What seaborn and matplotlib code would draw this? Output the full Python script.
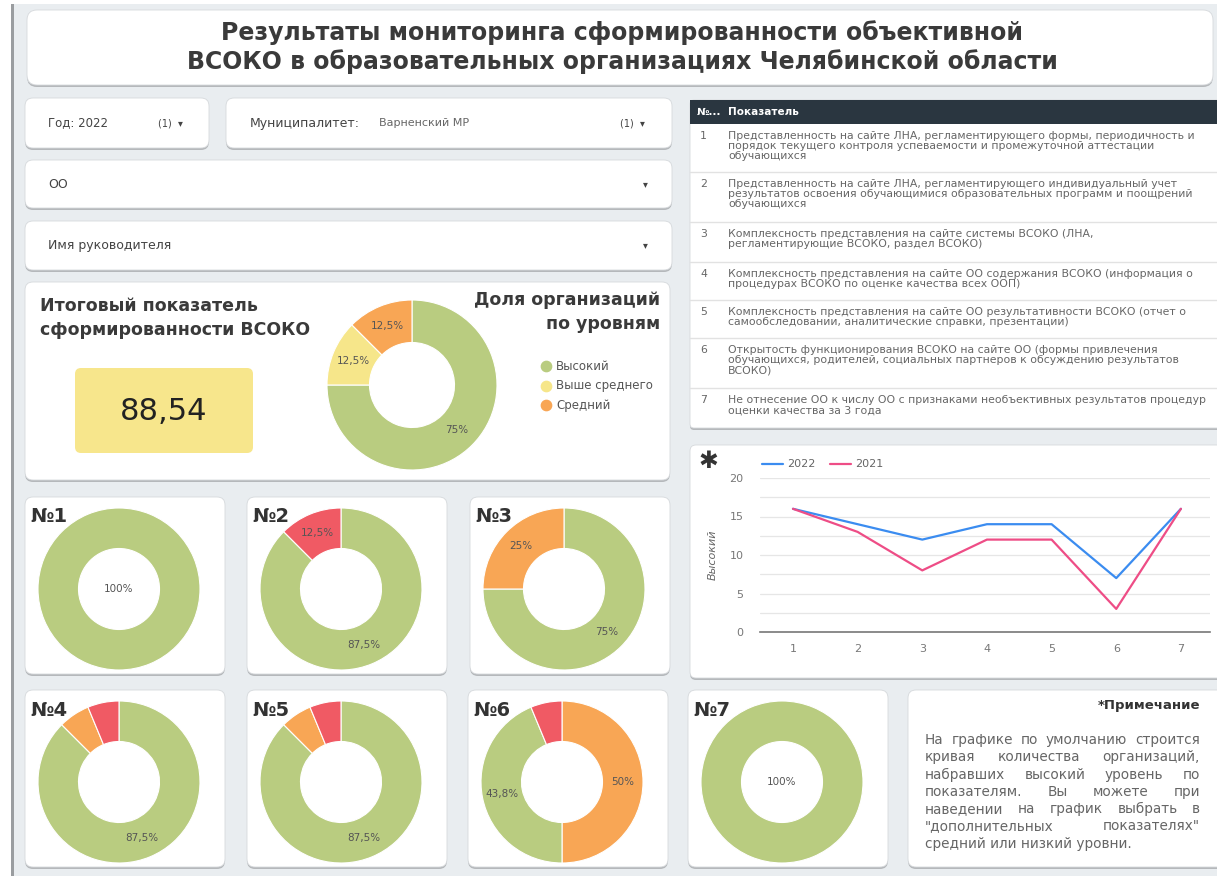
import math
import matplotlib
matplotlib.use("Agg")
import matplotlib.pyplot as plt
from matplotlib.patches import FancyBboxPatch, Rectangle
import seaborn as sns
import pandas as pd

W, H = 1217, 876

# ---- data ----
title = ("Результаты мониторинга сформированности объективной\n"
         "ВСОКО в образовательных организациях Челябинской области")
total_score = "88,54"
levels = ["Высокий", "Выше среднего", "Средний", "Низкий"]
level_colors = ["#b9cc80", "#f6e68a", "#f8a655", "#f05a64"]
overall_share = [75, 12.5, 12.5, 0]

indicators = [1, 2, 3, 4, 5, 6, 7]
share_high = [100, 87.5, 75, 87.5, 87.5, 43.75, 100]
share_above = [0, 0, 0, 0, 0, 0, 0]
share_mid = [0, 0, 25, 6.25, 6.25, 50, 0]
share_low = [0, 12.5, 0, 6.25, 6.25, 6.25, 0]

years = ["2022", "2021"]
high_2022 = [16, 14, 12, 14, 14, 7, 16]
high_2021 = [16, 13, 8, 12, 12, 3, 16]

indicator_names = [
    "Представленность на сайте ЛНА, регламентирующего формы, периодичность и\n"
    "порядок текущего контроля успеваемости и промежуточной аттестации\nобучающихся",
    "Представленность на сайте ЛНА, регламентирующего индивидуальный учет\n"
    "результатов освоения обучающимися образовательных программ и поощрений\nобучающихся",
    "Комплексность представления на сайте системы ВСОКО (ЛНА,\nрегламентирующие ВСОКО, раздел ВСОКО)",
    "Комплексность представления на сайте ОО содержания ВСОКО (информация о\n"
    "процедурах ВСОКО по оценке качества всех ООП)",
    "Комплексность представления на сайте ОО результативности ВСОКО (отчет о\n"
    "самообследовании, аналитические справки, презентации)",
    "Открытость функционирования ВСОКО на сайте ОО (формы привлечения\n"
    "обучающихся, родителей, социальных партнеров к обсуждению результатов\nВСОКО)",
    "Не отнесение ОО к числу ОО с признаками необъективных результатов процедур\n"
    "оценки качества за 3 года",
]

note_lines = [
    "На графике по умолчанию строится",
    "кривая количества организаций,",
    "набравших высокий уровень по",
    "показателям. Вы можете при",
    "наведении на график выбрать в",
    "\"дополнительных показателях\"",
    "средний или низкий уровни.",
]

sns.set_theme(style="white")
plt.rcParams['font.family'] = ['DejaVu Sans']

fig = plt.figure(figsize=(W / 100, H / 100), dpi=100)
fig.patch.set_facecolor('white')
bg = fig.add_axes([0, 0, 1, 1])
bg.set_xlim(0, W)
bg.set_ylim(H, 0)
bg.axis('off')
bg.add_patch(Rectangle((14, 4), W, H, fc='#e9edf0', ec='none', zorder=0))
bg.add_patch(Rectangle((11, 4), 3, H, fc='#9a9da0', ec='none', zorder=0))


def card(x0, y0, x1, y1, r=8, color='white'):
    bg.add_patch(FancyBboxPatch((x0, y0 + 2), x1 - x0, y1 - y0,
                                boxstyle="round,pad=0,rounding_size=%d" % r,
                                fc='#b5b8bb', ec='none', zorder=1))
    bg.add_patch(FancyBboxPatch((x0, y0), x1 - x0, y1 - y0,
                                boxstyle="round,pad=0,rounding_size=%d" % r,
                                fc=color, ec='#d6d9dc', lw=0.6, zorder=2))


def sub_axes(x0, y0, x1, y1):
    return fig.add_axes([x0 / W, 1 - y1 / H, (x1 - x0) / W, (y1 - y0) / H])


def pct(v):
    s = ("%.1f" % v).rstrip('0').rstrip('.')
    return s.replace('.', ',') + '%'


def donut(cx, cy, r, shares, fs=7.5):
    ax = sub_axes(cx - r, cy - r, cx + r, cy + r)
    items = [(s, c) for s, c in zip(shares, level_colors) if s > 0]
    items = sorted(items, key=lambda t: -t[0])
    vals = [s for s, _ in items]
    cols = [c for _, c in items]
    ax.pie(vals, colors=cols, startangle=90, counterclock=False, radius=1,
           wedgeprops=dict(width=0.5, edgecolor='white', linewidth=0.8))
    total = sum(vals)
    start = 90
    for v in vals:
        ang = math.radians(start - v / total * 180)
        start -= v / total * 360
        if v < 10:
            continue
        if len(vals) == 1:
            x, y = 0, 0
        else:
            x, y = 0.75 * math.cos(ang), 0.75 * math.sin(ang)
        ax.text(x, y, pct(v), ha='center', va='center', fontsize=fs, color='#555555')
    ax.set_xlim(-1, 1)
    ax.set_ylim(-1, 1)
    return ax


# ---- title ----
card(27, 10, 1213, 85, r=10)
bg.text(622, 47, title, ha='center', va='center', fontsize=17, fontweight='bold',
        color='#3a3a3a', linespacing=1.25, zorder=3)

# ---- filters ----
card(25, 98, 209, 148)
bg.text(48, 123, "Год: 2022", va='center', fontsize=8.5, color='#444444', zorder=3)
bg.text(158, 123, "(1)  ▾", va='center', fontsize=7, color='#444444', zorder=3)
card(226, 98, 672, 148)
bg.text(250, 123, "Муниципалитет:", va='center', fontsize=9, color='#444444', zorder=3)
bg.text(379, 123, "Варненский МР", va='center', fontsize=8, color='#666666', zorder=3)
bg.text(620, 123, "(1)  ▾", va='center', fontsize=7, color='#444444', zorder=3)
card(25, 160, 672, 208)
bg.text(48, 184, "ОО", va='center', fontsize=9, color='#444444', zorder=3)
bg.text(643, 184, "▾", va='center', fontsize=7, color='#444444', zorder=3)
card(25, 221, 672, 270)
bg.text(48, 245, "Имя руководителя", va='center', fontsize=9, color='#444444', zorder=3)
bg.text(643, 245, "▾", va='center', fontsize=7, color='#444444', zorder=3)

# ---- summary card ----
card(25, 282, 670, 480)
bg.text(40, 318, "Итоговый показатель\nсформированности ВСОКО", va='center', fontsize=12.5,
        fontweight='bold', color='#3a3a3a', linespacing=1.45, zorder=3)
bg.add_patch(FancyBboxPatch((75, 368), 178, 85, boxstyle="round,pad=0,rounding_size=6",
                            fc='#f7e68c', ec='none', zorder=3))
bg.text(164, 412, total_score, ha='center', va='center', fontsize=22, color='#222222', zorder=4)
bg.text(660, 312, "Доля организаций\nпо уровням", ha='right', va='center', fontsize=12.5,
        fontweight='bold', color='#3a3a3a', linespacing=1.45, zorder=3)
for i in range(3):
    y = 366 + i * 19.5
    bg.scatter([546], [y], s=55, color=level_colors[i], zorder=3)
    bg.text(556, y, levels[i], va='center', fontsize=8.5, color='#555555', zorder=3)
donut(412, 385, 85, overall_share)

# ---- per-indicator donuts ----
indicator_cards = [(25, 497), (247, 497), (470, 497), (25, 690), (247, 690), (468, 690), (688, 690)]
for i, (x0, y0) in enumerate(indicator_cards):
    card(x0, y0, x0 + 200, y0 + 177)
    bg.text(x0 + 5, y0 + 20, "№%d" % indicators[i], va='center', fontsize=14, fontweight='bold',
            color='#333333', zorder=5)
    shares = [share_high[i], share_above[i], share_mid[i], share_low[i]]
    donut(x0 + 94, y0 + 92, 81, shares)

# ---- indicator table ----
card(690, 100, 1230, 428, r=4)
bg.add_patch(Rectangle((690, 100), 540, 24, fc='#2a3640', ec='none', zorder=3))
bg.text(697, 112, "№...", va='center', fontsize=7.5, fontweight='bold', color='white', zorder=4)
bg.text(728, 112, "Показатель", va='center', fontsize=7.5, fontweight='bold', color='white', zorder=4)
row_tops = [124, 172, 222, 262, 300, 338, 388]
for i, name in enumerate(indicator_names):
    t = row_tops[i]
    if i > 0:
        bg.plot([690, 1217], [t, t], color='#e2e2e2', lw=1, zorder=3)
    bg.text(700, t + 7, str(indicators[i]), va='top', fontsize=7.8, color='#666666', zorder=4)
    bg.text(728, t + 7, name, va='top', fontsize=7.8, color='#666666', linespacing=1.02, zorder=4)

# ---- line chart ----
card(690, 445, 1230, 678, r=6)
bg.text(708, 461, "✱", ha='center', va='center', fontsize=17, color='#333333', zorder=4)
line_colors = {"2022": "#3b8cf0", "2021": "#ee4d86"}
for j, (yr, lx) in enumerate(zip(years, [762, 830])):
    bg.plot([lx, lx + 21], [464, 464], color=line_colors[yr], lw=1.6, zorder=4)
    bg.text(lx + 25, 464, yr, va='center', fontsize=8, color='#666666', zorder=4)
bg.text(713, 555, "Высокий", rotation=90, ha='center', va='center', fontsize=8,
        fontstyle='italic', color='#666666', zorder=4)

df = pd.DataFrame({
    "Показатель": indicators * 2,
    "Высокий": high_2022 + high_2021,
    "Год": ["2022"] * 7 + ["2021"] * 7,
})
lax = sub_axes(760, 478, 1210, 632)
lax.patch.set_alpha(0)
sns.lineplot(data=df, x="Показатель", y="Высокий", hue="Год", palette=line_colors,
             ax=lax, legend=False, linewidth=1.6, zorder=4)
lax.set_xlim(0.49, 7.45)
lax.set_ylim(0, 20)
lax.set_xticks(indicators)
lax.set_yticks([0, 5, 10, 15, 20])
lax.set_yticks([2.5, 7.5, 12.5, 17.5], minor=True)
lax.grid(axis='y', which='both', color='#e6e6e6', lw=0.9)
lax.grid(axis='x', visible=False)
for s in ['top', 'left', 'right']:
    lax.spines[s].set_visible(False)
lax.spines['bottom'].set_color('#777777')
lax.spines['bottom'].set_linewidth(1.2)
lax.tick_params(axis='both', which='both', length=0, labelsize=8, colors='#777777')
lax.tick_params(axis='x', pad=9)
lax.tick_params(axis='y', pad=12)
lax.set_xlabel("")
lax.set_ylabel("")

# ---- note card ----
card(908, 690, 1230, 867, r=8)
bg.text(1200, 706, "*Примечание", ha='right', va='center', fontsize=9.5, fontweight='bold',
        color='#333333', zorder=4)
renderer = fig.canvas.get_renderer()
left, right = 925, 1200
for i, line in enumerate(note_lines):
    y = 740 + i * 17.3
    words = line.split()
    if i == len(note_lines) - 1 or len(words) == 1:
        bg.text(left, y, line, va='center', fontsize=9.8, color='#666666', zorder=4)
        continue
    objs = [bg.text(0, y, w, va='center', fontsize=9.8, color='#666666', zorder=4) for w in words]
    widths = [o.get_window_extent(renderer).width for o in objs]
    gap = (right - left - sum(widths)) / (len(words) - 1)
    x = left
    for o, w in zip(objs, widths):
        o.set_x(x)
        x += w + gap

fig.savefig("out.png", dpi=100, facecolor=fig.get_facecolor())
